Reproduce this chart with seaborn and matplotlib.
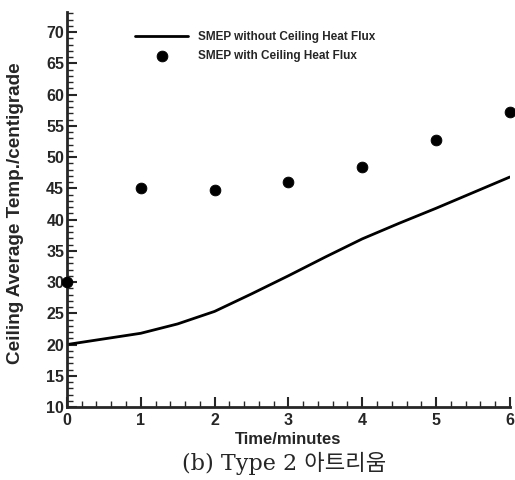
import matplotlib
matplotlib.use("Agg")
import numpy as np
import pandas as pd
import matplotlib.pyplot as plt
import matplotlib.ticker as mticker
import seaborn as sns

# data
line_minutes = [0, 0.5, 1, 1.5, 2, 2.5, 3, 3.5, 4, 4.5, 5, 5.5, 6]
line_temp = [20.0, 20.9, 21.8, 23.3, 25.3, 28.1, 31.0, 34.0, 36.9, 39.4, 41.8, 44.3, 46.8]
dot_minutes = [0, 1, 2, 3, 4, 5, 6]
dot_temp = [30.0, 45.0, 44.8, 46.0, 48.4, 52.7, 57.2]

line_label = "SMEP without Ceiling Heat Flux"
dot_label = "SMEP with Ceiling Heat Flux"

df_line = pd.DataFrame({"Time": line_minutes, "Temp": line_temp})
df_dot = pd.DataFrame({"Time": dot_minutes, "Temp": dot_temp})

sns.set_style("ticks")
plt.rcParams["font.family"] = ["Liberation Sans", "DejaVu Sans"]

fig = plt.figure(figsize=(5.15, 4.8), dpi=100)
ax = fig.add_axes([0.130, 0.152, 0.860, 0.823])

sns.lineplot(data=df_line, x="Time", y="Temp", color="black", linewidth=2,
             label=line_label, ax=ax)
sns.scatterplot(data=df_dot, x="Time", y="Temp", color="black", s=60,
                edgecolor="black", label=dot_label, ax=ax, clip_on=False, zorder=5)

ax.set_xlim(0, 6)
ax.set_ylim(10, 73.2)
ax.xaxis.set_major_locator(mticker.MultipleLocator(1))
ax.xaxis.set_minor_locator(mticker.MultipleLocator(0.2))
ax.yaxis.set_major_locator(mticker.MultipleLocator(5))
ax.yaxis.set_minor_locator(mticker.MultipleLocator(1))
ax.tick_params(which="major", direction="in", length=7, width=1.5, labelsize=11.5)
ax.tick_params(axis="x", which="major", pad=4)
ax.tick_params(axis="y", which="major", pad=2)
ax.tick_params(which="minor", direction="in", length=4, width=1)
for lab in ax.get_xticklabels() + ax.get_yticklabels():
    lab.set_fontweight("bold")

sns.despine(ax=ax)
for side in ["left", "bottom"]:
    ax.spines[side].set_linewidth(2)

ax.set_xlabel("Time/minutes", fontsize=12, fontweight="bold", labelpad=3)
ax.set_ylabel("Ceiling Average Temp./centigrade", fontsize=13.6, fontweight="bold")
ax.yaxis.set_label_coords(-0.097, 0.49)

ax.legend(loc="upper left", bbox_to_anchor=(0.13, 0.978), frameon=False,
          prop={"size": 8.5, "weight": "bold"}, handlelength=4.5, handletextpad=0.8,
          labelspacing=0.55)

fig.text(0.552, 0.035, "(b) Type 2 아트리움", ha="center", va="center", fontsize=16,
         family=["DejaVu Serif", "Noto Sans CJK KR"])

fig.savefig("out.png", dpi=100)
